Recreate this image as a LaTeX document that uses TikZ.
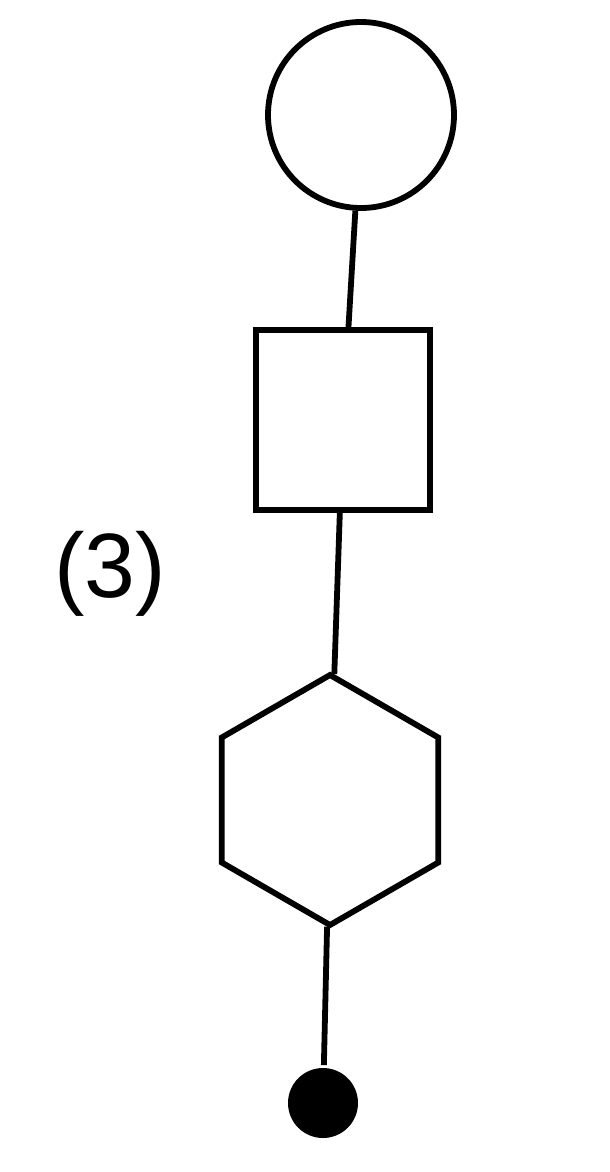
\documentclass[tikz,border=0pt]{standalone}
\usepackage{fontspec}
\setmainfont{Liberation Sans}
\usetikzlibrary{shapes.geometric}

\begin{document}
\begin{tikzpicture}[line width=3.3pt,
  level 1/.style={level distance=6.1cm},
  level 2/.style={level distance=7.6cm},
  level 3/.style={level distance=6.06cm}]
\useasboundingbox (0,0) rectangle (12.18,-23.44);
\node (label) at (2.2,-11.48) {\fontsize{52}{60}\selectfont (3)};
\node[circle,draw,minimum size=3.72cm,inner sep=0pt] (ring) at (7.22,-2.3) {}
child[xshift=-0.36cm]{
  node[draw,minimum width=3.48cm,minimum height=3.6cm] (box) {}
  child[xshift=-0.26cm]{
    node[regular polygon,regular polygon sides=6,shape border rotate=30,draw,minimum size=5cm,inner sep=0pt] (hex) {}
    child[xshift=-0.14cm]{
      node[circle,fill=black,minimum size=1.4cm,inner sep=0pt] (dot) {}
    }
  }
};
\end{tikzpicture}
\end{document}
